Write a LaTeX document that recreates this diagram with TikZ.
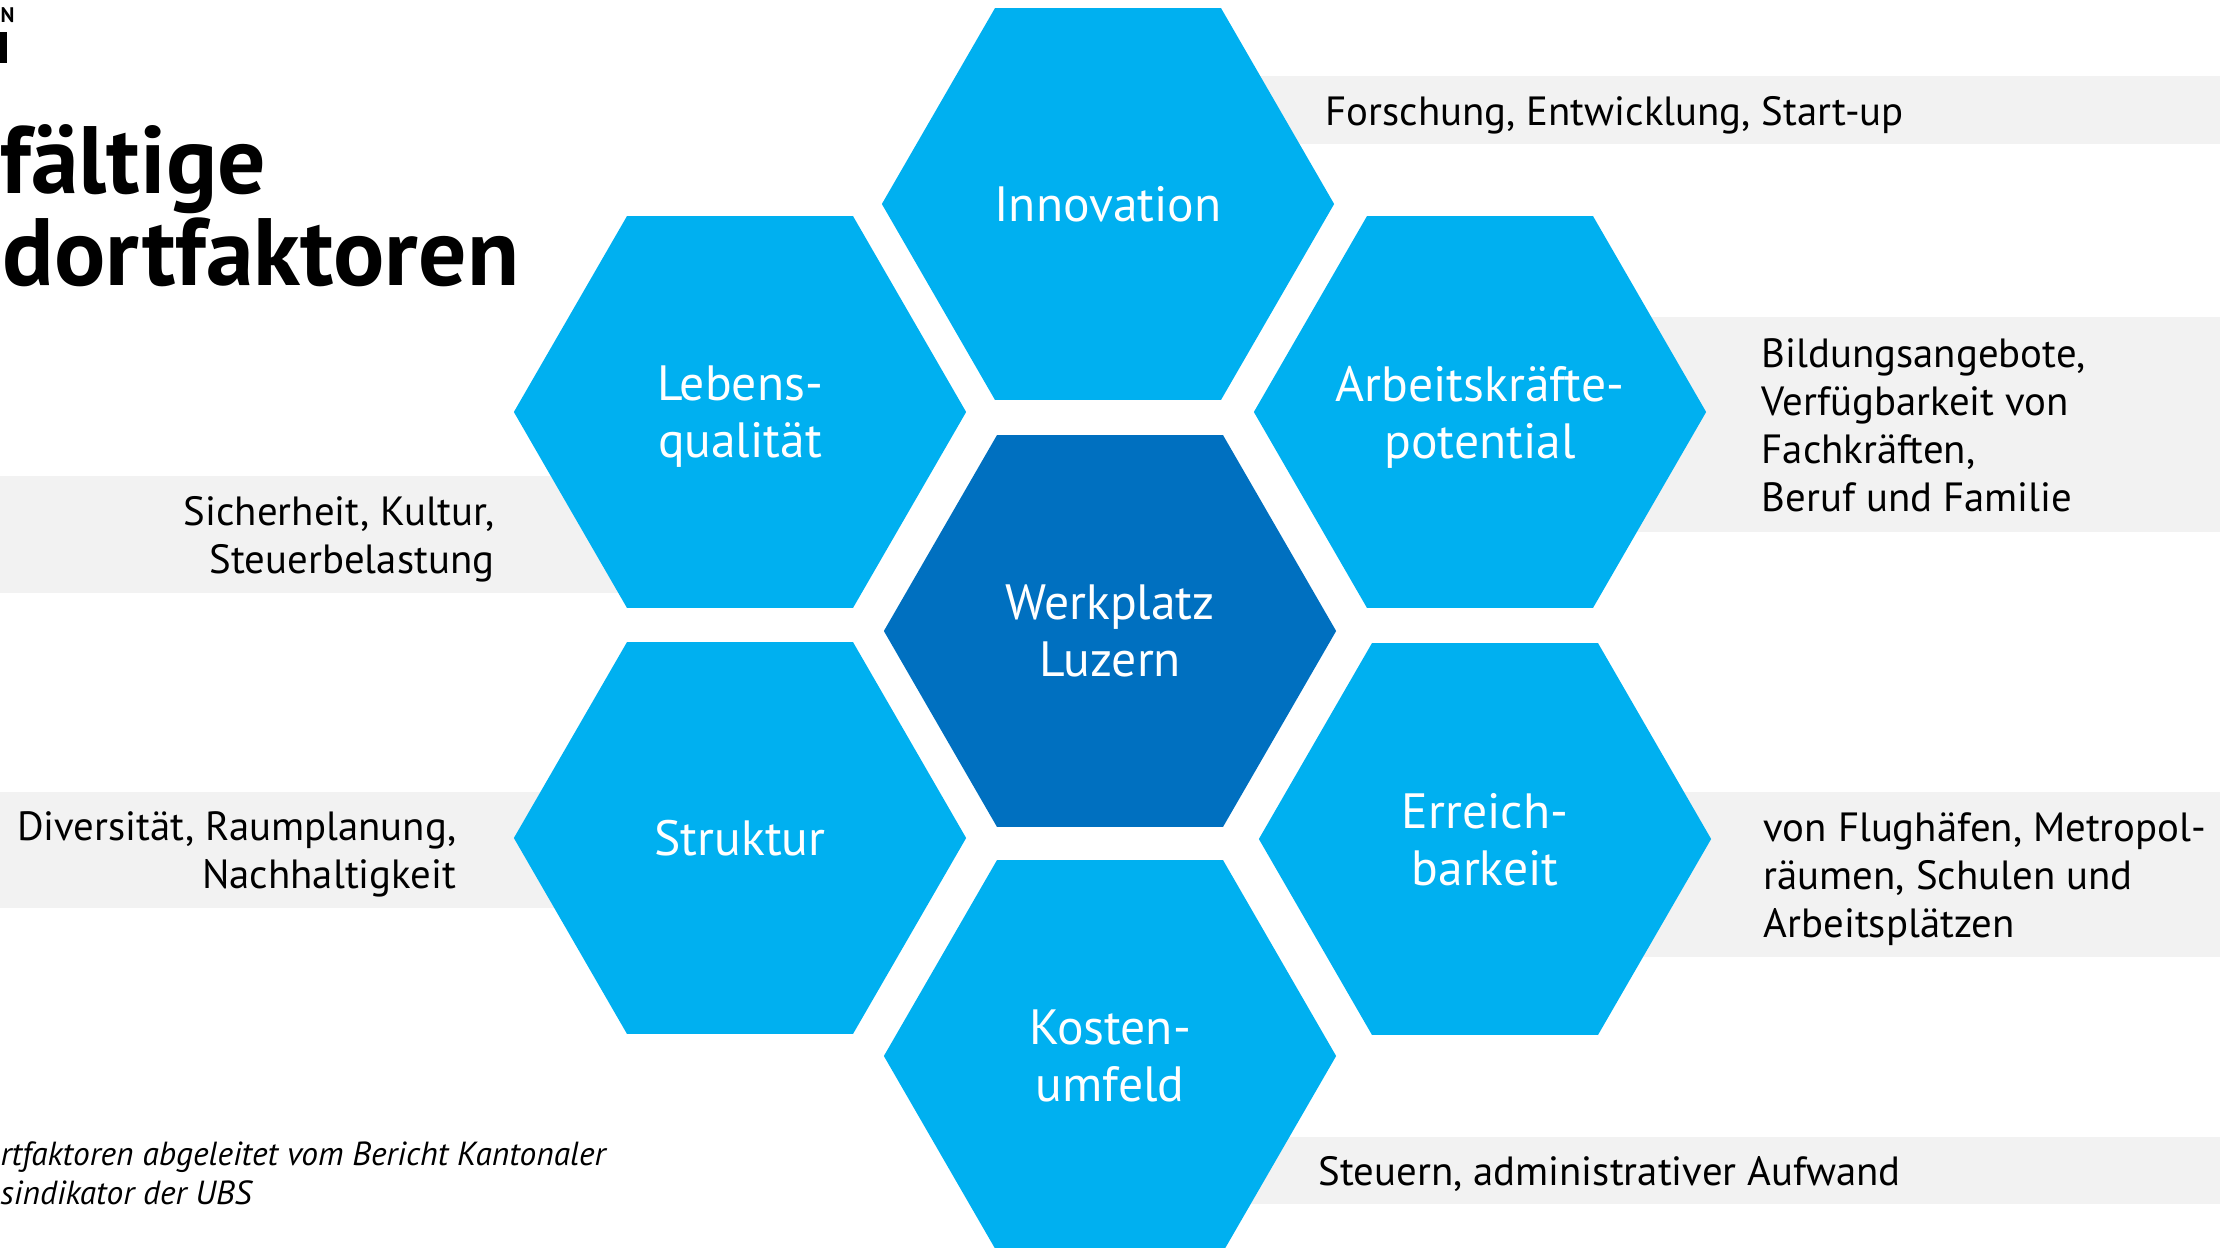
\documentclass[tikz,border=0pt]{standalone}
\usepackage{fontspec}
\setmainfont{PT Sans}
\usetikzlibrary{shapes.geometric}
\definecolor{hexblue}{HTML}{00B0F0}
\definecolor{hexdark}{HTML}{0070C0}
\definecolor{bargrey}{HTML}{F2F2F2}

\begin{document}
\begin{tikzpicture}[x=0.01cm, y=-0.01cm,
                hexa/.style={regular polygon, regular polygon sides=6, minimum size=4.52cm, inner sep=-1cm, outer sep=0pt, fill=hexblue, text=white, align=center, text depth=0pt, font=\fontsize{14.1}{16.2}\selectfont},
                hexmain/.style={hexa, fill=hexdark},
                infobar/.style={fill=bargrey},
                info/.style={inner sep=0pt, text depth=0pt, font=\fontsize{11.6}{13.7}\selectfont},
                headline/.style={inner sep=0pt, font=\bfseries\fontsize{27.2}{27.2}\selectfont},
                note/.style={inner sep=0pt, font=\itshape\fontsize{9.5}{11}\selectfont}]
                \useasboundingbox (0, 0) rectangle (2220, 1248);
                \clip (0, 0) rectangle (2220, 1248);
                \fill [infobar] (1200, 76) rectangle (2220, 144);
                \fill [infobar] (1600, 317) rectangle (2220, 532);
                \fill [infobar] (1600, 792) rectangle (2220, 957);
                \fill [infobar] (1200, 1137) rectangle (2220, 1204);
                \fill [infobar] (0, 476) rectangle (700, 593);
                \fill [infobar] (0, 792) rectangle (700, 908);
                \node [hexa] (innov) at (1108, 204) {Innovation};
                \node [hexa] (lebens) at (740, 412) {Lebens-\\qualität};
                \node [hexa] (arbeit) at (1480, 412) {Arbeitskräfte-\\potential};
                \node [hexmain] (werk) at (1110, 631) {Werkplatz\\Luzern};
                \node [hexa] (struktur) at (740, 838) {Struktur};
                \node [hexa] (erreich) at (1485, 839) {Erreich-\\barkeit};
                \node [hexa] (kosten) at (1110, 1056) {Kosten-\\umfeld};
                \node [info, anchor=west] (innovinfo) at (1325, 111) {Forschung, Entwicklung, Start-up};
                \node [info, anchor=west, align=left] (arbeitinfo) at (1761, 425) {Bildungsangebote,\\Verfügbarkeit von\\Fachkräften,\\Beruf und Familie};
                \node [info, anchor=west, align=left] (erreichinfo) at (1763, 875) {von Flughäfen, Metropol-\\räumen, Schulen und\\Arbeitsplätzen};
                \node [info, anchor=west] (kosteninfo) at (1318, 1171) {Steuern, administrativer Aufwand};
                \node [info, anchor=east, align=right] (lebensinfo) at (495, 535) {Sicherheit, Kultur,\\Steuerbelastung};
                \node [info, anchor=east, align=right] (strukturinfo) at (457, 850) {Diversität, Raumplanung,\\Nachhaltigkeit};
                \node [headline, anchor=base west] (titel1) at (0, 193) {fältige};
                \node [headline, anchor=base west] (titel2) at (2, 285) {dortfaktoren};
                \node [note, anchor=base west] (quelle1) at (0, 1165) {rtfaktoren abgeleitet vom Bericht Kantonaler};
                \node [note, anchor=base west] (quelle2) at (0, 1204) {sindikator der UBS};
                \node [inner sep=0pt, anchor=base west, font=\bfseries\fontsize{6}{6}\selectfont] (logo) at (0, 22) {N};
                \fill (0, 32) rectangle (7, 63);
            \end{tikzpicture}
\end{document}
